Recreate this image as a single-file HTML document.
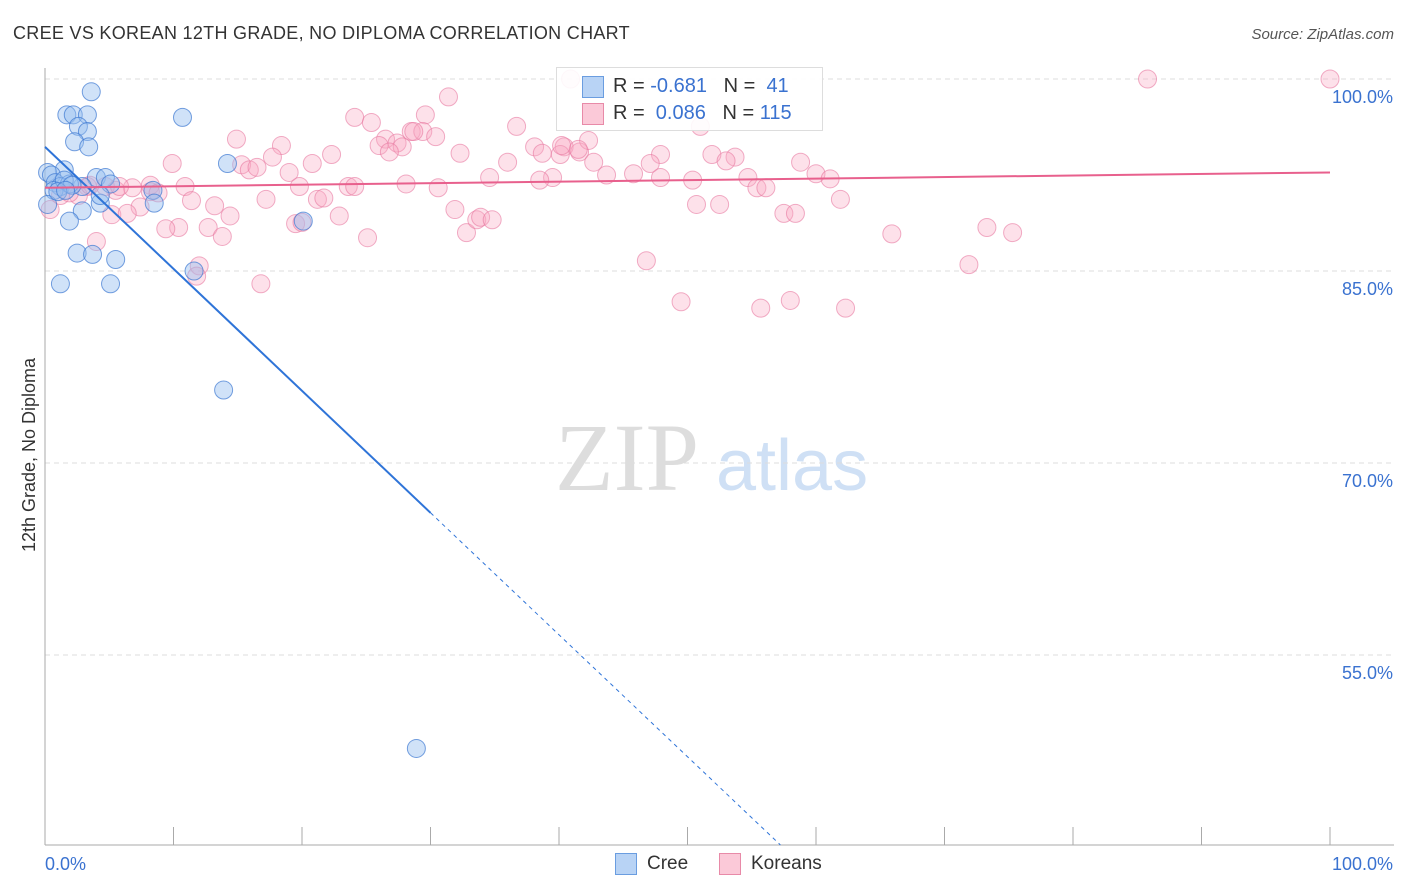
<!DOCTYPE html>
<html><head><meta charset="utf-8"><style>
body{margin:0;background:#fff;font-family:"Liberation Sans",sans-serif;}
#wrap{position:relative;width:1406px;height:892px;overflow:hidden;}
</style></head><body>
<div id="wrap">
<svg id="svg" width="1406" height="892">
<text x="13" y="39" font-size="18" fill="#333" letter-spacing="0.3">CREE VS KOREAN 12TH GRADE, NO DIPLOMA CORRELATION CHART</text>
<text x="1394" y="39" font-size="15" fill="#555" font-style="italic" text-anchor="end">Source: ZipAtlas.com</text>
<text x="35" y="455" font-size="18" fill="#333" transform="rotate(-90 35 455)" text-anchor="middle">12th Grade, No Diploma</text>
<text x="555" y="490" font-size="96" fill="#ddd" font-family="Liberation Serif">ZIP</text>
<text x="716" y="490" font-size="72" fill="#cfe0f5">atlas</text>
<g id="grid"></g><g id="pts"></g><g id="lines"></g>
</svg>
<div style="position:absolute;left:556px;top:67px;width:265px;height:62px;border:1px solid #ddd;background:rgba(255,255,255,.9);font-size:20px;color:#333;">
 <div style="position:absolute;left:25px;top:8px;width:20px;height:20px;background:#b8d3f5;border:1px solid #6a9de0"></div>
 <div style="position:absolute;left:56px;top:7px">R = <span style="color:#3a72d0">-0.681</span>&nbsp;&nbsp;&nbsp;N = &nbsp;<span style="color:#3a72d0">41</span></div>
 <div style="position:absolute;left:25px;top:35px;width:20px;height:20px;background:#fbc9d8;border:1px solid #e88aa8"></div>
 <div style="position:absolute;left:56px;top:34px">R = &nbsp;<span style="color:#3a72d0">0.086</span>&nbsp;&nbsp;&nbsp;N = <span style="color:#3a72d0">115</span></div>
</div>
<div style="position:absolute;left:615px;top:853px;width:20px;height:20px;background:#b8d3f5;border:1px solid #6a9de0"></div>
<div style="position:absolute;left:647px;top:853px;font-size:19px;color:#333">Cree</div>
<div style="position:absolute;left:719px;top:853px;width:20px;height:20px;background:#fbc9d8;border:1px solid #e88aa8"></div>
<div style="position:absolute;left:751px;top:853px;font-size:19px;color:#333">Koreans</div>
</div>
<script>
const yTicks=[100,85,70,55];
const yTickLabels=["100.0%","85.0%","70.0%","55.0%"];
const xTicks=[0,10,20,30,40,50,60,70,80,90,100];
const creeX=[3.6,1.7,2.2,3.3,10.7,2.6,3.3,2.3,3.4,14.2,1.5,0.2,0.5,4.0,4.7,5.1,2.9,0.8,1.2,1.9,0.7,8.4,4.3,8.5,2.9,1.9,20.1,2.5,3.7,5.5,11.6,1.2,5.1,13.9,28.9,0.2,1.5,2.1,1.0,4.3,1.6];
const creeY=[99.0,97.2,97.2,97.2,97.0,96.3,95.9,95.1,94.7,93.4,92.9,92.7,92.5,92.3,92.3,91.8,91.6,91.9,91.6,91.8,91.3,91.3,90.3,90.3,89.7,88.9,88.9,86.4,86.3,85.9,85.0,84.0,84.0,75.7,47.7,90.2,92.1,91.7,91.2,90.9,91.3];
const korX=[40.9,85.8,100,31.4,29.6,24.1,25.4,26.5,28.5,29.4,30.4,36.7,14.9,18.4,26.0,27.4,27.8,26.8,22.3,32.3,38.1,38.7,40.4,41.6,42.3,40.1,41.5,51.0,51.9,53.7,47.9,47.1,42.7,36.0,9.9,15.3,15.9,16.5,17.7,20.8,19.0,58.8,60.0,61.1,54.7,55.4,56.1,50.4,47.9,45.8,43.7,39.5,38.5,34.6,30.6,28.1,23.6,24.1,19.8,10.9,8.2,6.8,8.2,8.8,5.5,4.7,3.3,2.6,17.2,21.2,21.7,11.4,13.2,14.4,7.4,5.2,6.4,31.9,50.7,52.5,57.5,58.4,61.9,22.9,19.5,20.0,10.4,9.4,12.7,13.8,25.1,32.8,33.6,33.9,34.8,4.0,65.9,73.3,75.3,12.0,11.8,46.8,71.9,16.8,49.5,55.7,58.0,62.3,0.4,1.2,1.9,3.5,5.8,40.2,28.7,53.0];
const korY=[100,100,100,98.6,97.2,97.0,96.6,95.3,95.9,95.9,95.5,96.3,95.3,94.8,94.8,95.0,94.7,94.3,94.1,94.2,94.7,94.2,94.7,94.3,95.2,94.1,94.5,96.3,94.1,93.9,94.1,93.4,93.5,93.5,93.4,93.3,92.9,93.1,93.9,93.4,92.7,93.5,92.6,92.2,92.3,91.5,91.5,92.1,92.3,92.6,92.5,92.3,92.1,92.3,91.5,91.8,91.6,91.6,91.6,91.6,91.7,91.5,91.2,91.1,91.3,91.6,91.6,90.9,90.6,90.6,90.7,90.5,90.1,89.3,90.0,89.4,89.5,89.8,90.2,90.2,89.5,89.5,90.6,89.3,88.7,88.8,88.4,88.3,88.4,87.7,87.6,88.0,89.0,89.2,89.0,87.3,87.9,88.4,88.0,85.4,84.6,85.8,85.5,84.0,82.6,82.1,82.7,82.1,89.8,90.9,91.1,91.7,91.6,94.8,95.9,93.6];
const creeTrend=[94.7,-0.953];
const korTrend=[91.5,0.012];
const X=v=>45+v*12.85;
const Y=v=>79+(100-v)*12.8;
const NS="http://www.w3.org/2000/svg";
function mk(t,a,p){const e=document.createElementNS(NS,t);for(const k in a)e.setAttribute(k,a[k]);p.appendChild(e);return e;}
const grid=document.getElementById('grid'),pts=document.getElementById('pts'),lines=document.getElementById('lines');
yTicks.forEach((v,i)=>{
 const l=mk('line',{x1:45,x2:1394,y1:Y(v),y2:Y(v),stroke:'#ddd','stroke-dasharray':'5,4'},grid);
 
 
 const t=mk('text',{x:1393,y:Y(v)+24,'font-size':18,fill:'#3a72d0','text-anchor':'end'},grid);t.textContent=yTickLabels[i];
 
 
});
const ax=mk('line',{x1:45,x2:45,y1:68,y2:845,stroke:'#aaa'},grid);


const bx=mk('line',{x1:45,x2:1394,y1:845,y2:845,stroke:'#aaa'},grid);


xTicks.forEach(v=>{const t=mk('line',{x1:X(v),x2:X(v),y1:827,y2:845,stroke:'#aaa'},grid);
 
 });
[[0,'0.0%','start',45],[100,'100.0%','end',1393]].forEach(a=>{const t=mk('text',{x:a[3],y:870,'font-size':18,fill:'#3a72d0','text-anchor':a[2]},grid);t.textContent=a[1];
 
 });
korX.forEach((x,i)=>{const c=mk('circle',{cx:X(x),cy:Y(korY[i]),r:9,fill:'rgba(248,170,195,0.35)',stroke:'rgba(232,120,160,0.6)','stroke-width':1},pts);
 
 });
creeX.forEach((x,i)=>{const c=mk('circle',{cx:X(x),cy:Y(creeY[i]),r:9,fill:'rgba(150,190,240,0.45)',stroke:'rgba(60,120,210,0.7)','stroke-width':1},pts);
 
 });
const xEnd=(creeTrend[0]-40.16)/-creeTrend[1];
let l1=mk('line',{x1:X(0),y1:Y(creeTrend[0]),x2:X(30),y2:Y(creeTrend[0]+creeTrend[1]*30),stroke:'#2f74d8','stroke-width':2},lines);


let l2=mk('line',{x1:X(30),y1:Y(creeTrend[0]+creeTrend[1]*30),x2:X(xEnd),y2:Y(40.16),stroke:'#2f74d8','stroke-width':1,'stroke-dasharray':'4,4'},lines);


let l3=mk('line',{x1:X(0),y1:Y(korTrend[0]),x2:X(100),y2:Y(korTrend[0]+korTrend[1]*100),stroke:'#e8608d','stroke-width':2},lines);


</script>
</body></html>
